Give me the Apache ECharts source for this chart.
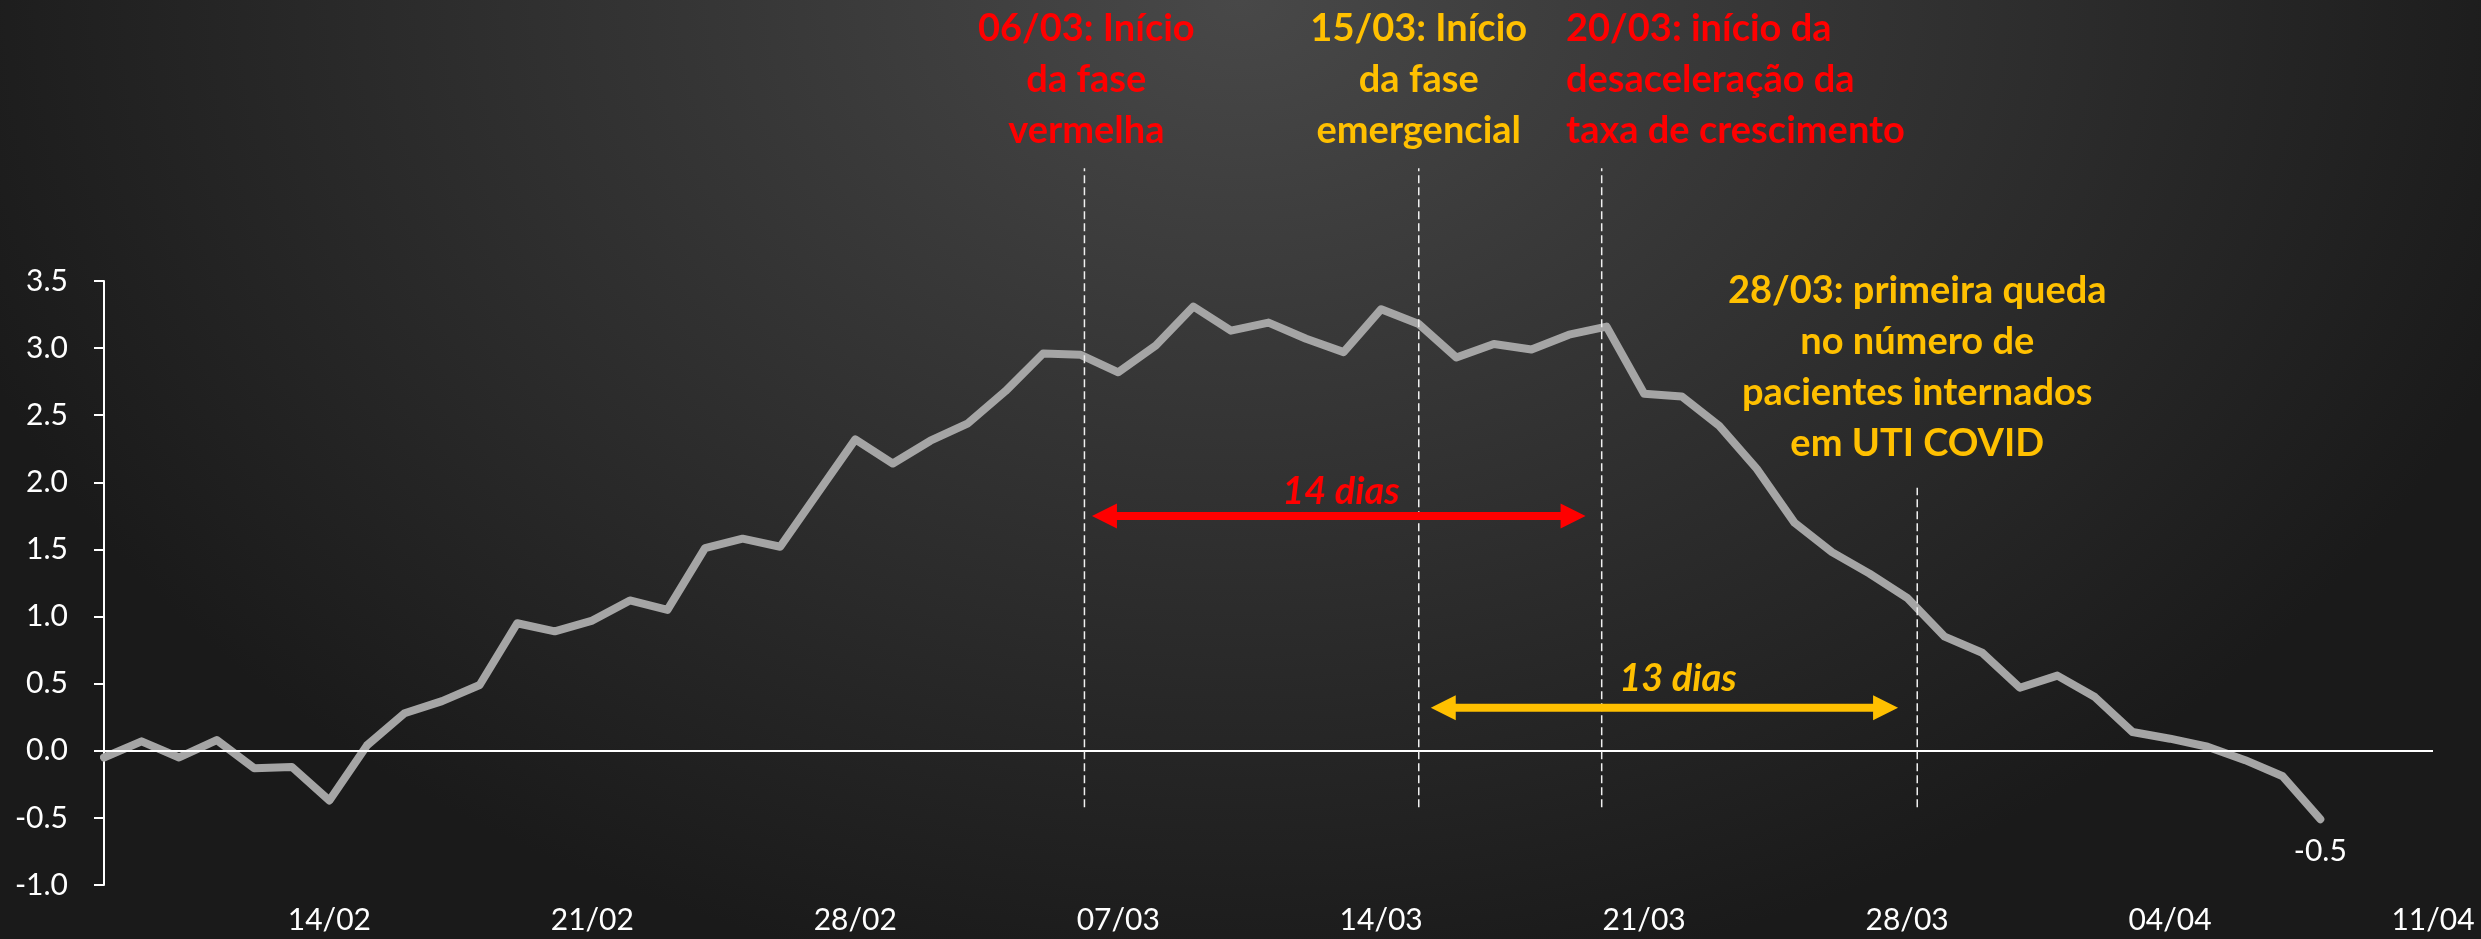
<!DOCTYPE html>
<html>
<head>
<meta charset="utf-8">
<title>Taxa de crescimento</title>
<script src="https://cdn.jsdelivr.net/npm/echarts@6/dist/echarts.min.js"></script>
<style>
  html, body { margin: 0; padding: 0; }
  #main {
    width: 2481px;
    height: 939px;
    background: radial-gradient(ellipse 1350px 1000px at 50% 0%, #484848 0%, #1a1a1a 100%);
  }
</style>
</head>
<body>
<div id="main"></div>
<script>
// dias de 08/02 a 11/04
var dias = [
  "08/02", "09/02", "10/02", "11/02", "12/02", "13/02", "14/02", "15/02", "16/02", "17/02",
  "18/02", "19/02", "20/02", "21/02", "22/02", "23/02", "24/02", "25/02", "26/02", "27/02",
  "28/02", "01/03", "02/03", "03/03", "04/03", "05/03", "06/03", "07/03", "08/03", "09/03",
  "10/03", "11/03", "12/03", "13/03", "14/03", "15/03", "16/03", "17/03", "18/03", "19/03",
  "20/03", "21/03", "22/03", "23/03", "24/03", "25/03", "26/03", "27/03", "28/03", "29/03",
  "30/03", "31/03", "01/04", "02/04", "03/04", "04/04", "05/04", "06/04", "07/04", "08/04",
  "09/04", "10/04", "11/04"
];
var rotulosX = ["14/02", "21/02", "28/02", "07/03", "14/03", "21/03", "28/03", "04/04", "11/04"];
var rotulosY = [-1.0, -0.5, 0.0, 0.5, 1.0, 1.5, 2.0, 2.5, 3.0, 3.5];

// taxa de crescimento, de 08/02 a 08/04
var taxa = [
  -0.05, 0.07, -0.05, 0.08, -0.13, -0.12, -0.37, 0.04, 0.28, 0.37,
  0.49, 0.95, 0.89, 0.97, 1.12, 1.05, 1.51, 1.58, 1.52, 1.92,
  2.32, 2.14, 2.31, 2.44, 2.68, 2.96, 2.95, 2.82, 3.02, 3.31,
  3.13, 3.19, 3.07, 2.97, 3.29, 3.18, 2.93, 3.03, 2.99, 3.10,
  3.16, 2.66, 2.64, 2.42, 2.10, 1.70, 1.48, 1.32, 1.14, 0.85,
  0.73, 0.47, 0.56, 0.40, 0.14, 0.09, 0.03, -0.07, -0.19, -0.51
];

// datas marcadas com linha tracejada
var marcos = ["06/03", "15/03", "20/03", "28/03"];

var VERMELHO = "#FF0000";
var AMARELO = "#FFC000";
var BRANCO = "#FFFFFF";
var FONTE = "Lato";

let myChart = echarts.init(document.getElementById("main"));

let option = {
  animation: false,
  backgroundColor: "transparent",
  grid: { left: 104, right: 48, top: 281, bottom: 54 },
  xAxis: {
    type: "category",
    data: dias,
    boundaryGap: false,
    axisLine: { show: false, onZero: false },
    axisTick: { show: false },
    splitLine: { show: false },
    axisLabel: {
      interval: function (i, v) {
        return rotulosX.indexOf(v) >= 0;
      },
      color: BRANCO,
      fontFamily: FONTE,
      fontSize: 30,
      margin: 20
    }
  },
  yAxis: {
    type: "value",
    min: rotulosY[0],
    max: rotulosY[rotulosY.length - 1],
    interval: rotulosY[1] - rotulosY[0],
    axisLine: { show: true, lineStyle: { color: BRANCO, width: 2 } },
    axisTick: { show: true, length: 10, lineStyle: { color: BRANCO, width: 2 } },
    splitLine: { show: false },
    axisLabel: {
      color: BRANCO,
      fontFamily: FONTE,
      fontSize: 30,
      margin: 36,
      formatter: function (v) {
        return v.toFixed(1);
      }
    }
  },
  series: [
    {
      name: "taxa",
      type: "line",
      data: taxa.map(function (v, i) {
        return i === taxa.length - 1 ? { value: v, label: { show: true } } : v;
      }),
      symbol: "circle",
      symbolSize: 0,
      showSymbol: true,
      showAllSymbol: true,
      lineStyle: { color: "#A5A5A5", width: 8, cap: "round", join: "round" },
      itemStyle: { color: "#A5A5A5" },
      label: {
        show: false,
        position: "bottom",
        distance: 17,
        color: BRANCO,
        fontFamily: FONTE,
        fontSize: 30,
        formatter: function (p) {
          return p.value.toFixed(1);
        }
      },
      markLine: {
        silent: true,
        symbol: "none",
        label: { show: false },
        lineStyle: { color: BRANCO, width: 2, type: "solid" },
        data: [{ yAxis: 0 }]
      },
      z: 3
    }
  ]
};
myChart.setOption(option);

// posicao em pixels de um dia (pode ser fracionario) e valor
function pos(dia, valor) {
  var i = Math.floor(dia);
  var a = myChart.convertToPixel({ gridIndex: 0 }, [i, valor]);
  var b = myChart.convertToPixel({ gridIndex: 0 }, [i + 1, valor]);
  return [a[0] + (b[0] - a[0]) * (dia - i), a[1]];
}

function seta(d1, d2, valor, cor) {
  var a = pos(d1, valor);
  var b = pos(d2, valor);
  var y = a[1];
  var cab = 25, meia = 12.5, esp = 8;
  return [
    { type: "rect", z: 10, shape: { x: a[0] + cab - 1, y: y - esp / 2, width: b[0] - a[0] - 2 * cab + 2, height: esp }, style: { fill: cor } },
    { type: "polygon", z: 10, shape: { points: [[a[0], y], [a[0] + cab, y - meia], [a[0] + cab, y + meia]] }, style: { fill: cor } },
    { type: "polygon", z: 10, shape: { points: [[b[0], y], [b[0] - cab, y - meia], [b[0] - cab, y + meia]] }, style: { fill: cor } }
  ];
}

function texto(t, cor, dia, valor, alinh, italico) {
  var p = pos(dia, valor);
  return {
    type: "text",
    z: 10,
    x: p[0],
    y: p[1],
    style: {
      text: t,
      fill: cor,
      fontFamily: FONTE,
      fontWeight: "bold",
      fontStyle: italico ? "italic" : "normal",
      fontSize: 38,
      lineHeight: 51,
      align: alinh,
      verticalAlign: "middle"
    }
  };
}

var g = [];

// linhas tracejadas: pequeno ajuste de posicao (em dias) e topo (em valores do eixo)
var ajustes = [0.1, 0, -0.13, 0.27];
var topos = [4.34, 4.34, 4.34, 1.96];
marcos.forEach(function (m, k) {
  var i = dias.indexOf(m) + ajustes[k];
  var p1 = pos(i, -0.42);
  var p2 = pos(i, topos[k]);
  g.push({
    type: "line",
    z: 9,
    silent: true,
    shape: { x1: p1[0], y1: p1[1], x2: p2[0], y2: p2[1] },
    style: { stroke: "#f0f0f0", lineWidth: 1.5, lineDash: [8, 4] }
  });
});

g = g.concat(seta(26.3, 39.44, 1.75, VERMELHO));
g = g.concat(seta(35.32, 47.76, 0.32, AMARELO));

g.push(texto("14 dias", VERMELHO, 32.93, 1.93, "center", true));
g.push(texto("13 dias", AMARELO, 41.9, 0.54, "center", true));

g.push(texto("06/03: Início\nda fase\nvermelha", VERMELHO, 26.15, 5.0, "center"));
g.push(texto("15/03: Início\nda fase\nemergencial", AMARELO, 35, 5.0, "center"));
g.push(texto("20/03: início da\ndesaceleração da\ntaxa de crescimento", VERMELHO, 38.92, 5.0, "left"));
g.push(texto("28/03: primeira queda\nno número de\npacientes internados\nem UTI COVID", AMARELO, 48.27, 2.86, "center"));

myChart.setOption({ graphic: g });
</script>
</body>
</html>
